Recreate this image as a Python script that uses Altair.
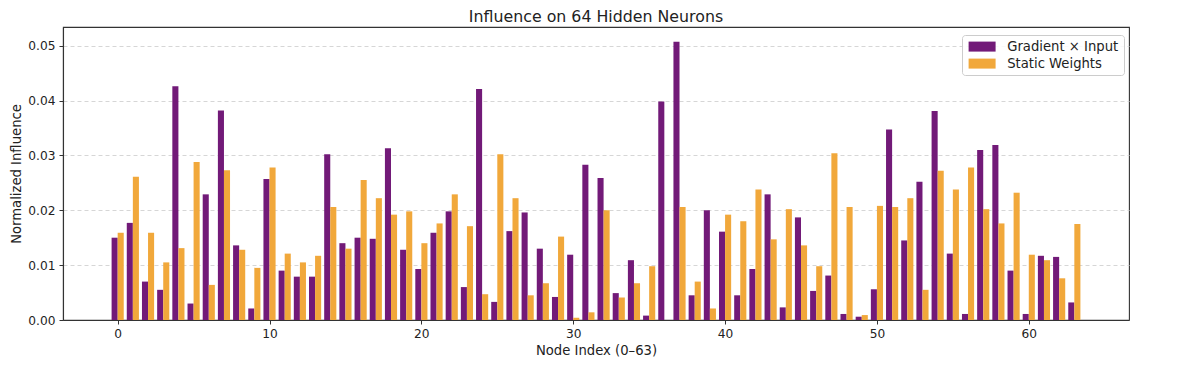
import altair as alt
import pandas as pd

series_names = ["Gradient × Input", "Static Weights"]
colors = ["#721a78", "#f1a83b"]

grad_input = [
    0.0150, 0.0177, 0.0070, 0.0055, 0.0426, 0.0030, 0.0229, 0.0382, 0.0136, 0.0021,
    0.0257, 0.0090, 0.0079, 0.0079, 0.0302, 0.0140, 0.0150, 0.0148, 0.0313, 0.0128,
    0.0093, 0.0159, 0.0198, 0.0060, 0.0421, 0.0033, 0.0162, 0.0196, 0.0130, 0.0042,
    0.0119, 0.0283, 0.0259, 0.0049, 0.0109, 0.0008, 0.0398, 0.0507, 0.0045, 0.0200,
    0.0161, 0.0045, 0.0093, 0.0229, 0.0023, 0.0187, 0.0053, 0.0081, 0.0011, 0.0006,
    0.0056, 0.0347, 0.0145, 0.0252, 0.0381, 0.0121, 0.0011, 0.0310, 0.0319, 0.0090,
    0.0011, 0.0117, 0.0115, 0.0032,
]
static_weights = [
    0.0159, 0.0261, 0.0159, 0.0105, 0.0131, 0.0288, 0.0064, 0.0273, 0.0128, 0.0095,
    0.0278, 0.0121, 0.0105, 0.0117, 0.0206, 0.0130, 0.0255, 0.0222, 0.0192, 0.0198,
    0.0140, 0.0176, 0.0229, 0.0171, 0.0047, 0.0302, 0.0222, 0.0045, 0.0067, 0.0152,
    0.0004, 0.0014, 0.0200, 0.0041, 0.0067, 0.0098, 0.0000, 0.0206, 0.0070, 0.0021,
    0.0192, 0.0180, 0.0238, 0.0147, 0.0202, 0.0136, 0.0098, 0.0304, 0.0206, 0.0009,
    0.0208, 0.0206, 0.0222, 0.0055, 0.0272, 0.0238, 0.0278, 0.0202, 0.0176, 0.0232,
    0.0119, 0.0109, 0.0076, 0.0175,
]
x_ticks = [0, 10, 20, 30, 40, 50, 60]
y_ticks = [0.0, 0.01, 0.02, 0.03, 0.04, 0.05]

rows = []
for i, v in enumerate(grad_input):
    rows.append({"node": i, "series": series_names[0], "k": 0, "value": v})
for i, v in enumerate(static_weights):
    rows.append({"node": i, "series": series_names[1], "k": 1, "value": v})
df = pd.DataFrame(rows)

FONT = "DejaVu Sans"

chart = (
    alt.Chart(df)
    .transform_calculate(x0="datum.node + 0.4*datum.k - 0.4", x1="datum.node + 0.4*datum.k")
    .mark_rect()
    .encode(
        x=alt.X("x0:Q", scale=alt.Scale(domain=[-3.6, 66.6], nice=False, zero=False),
                axis=alt.Axis(values=x_ticks, title="Node Index (0–63)", grid=False,
                              format="d", labelPadding=3, titlePadding=5)),
        x2="x1:Q",
        y=alt.Y("value:Q", scale=alt.Scale(domain=[0, 0.0534], nice=False),
                axis=alt.Axis(values=y_ticks, format=".2f", title="Normalized Influence",
                              grid=True, gridDash=[4, 3], gridColor="#d6d6d6",
                              labelPadding=4, titlePadding=4)),
        y2=alt.datum(0),
        color=alt.Color("series:N",
                        scale=alt.Scale(domain=series_names, range=colors),
                        legend=alt.Legend(title=None, orient="none", legendX=899, legendY=8,
                                          fillColor="rgba(255,255,255,0.85)", strokeColor="#cccccc",
                                          cornerRadius=3, padding=5, rowPadding=3,
                                          symbolType="M-1,-1H4.4V1H-1Z", symbolSize=100,
                                          symbolStrokeWidth=0, symbolOpacity=1,
                                          labelFontSize=13.2, labelFont=FONT, labelColor="#222",
                                          labelOffset=27)),
    )
    .properties(
        width=1066, height=293,
        title=alt.TitleParams("Influence on 64 Hidden Neurons", font=FONT, fontSize=15.8,
                              fontWeight="normal", color="#222", anchor="middle", offset=1),
        autosize=alt.AutoSizeParams(type="none"),
        padding={"left": 55, "top": 19, "right": 20, "bottom": 50},
    )
    .configure_view(stroke="#333", strokeWidth=1.1)
    .configure_axis(
        labelFont=FONT, titleFont=FONT, labelFontSize=12.2, titleFontSize=13.2,
        labelColor="#222", titleColor="#222", titleFontWeight="normal",
        domainColor="#333", tickColor="#333", tickSize=4, domainWidth=1.1,
    )
)

chart.save("out.html", embed_options={"renderer": "svg", "actions": False})
